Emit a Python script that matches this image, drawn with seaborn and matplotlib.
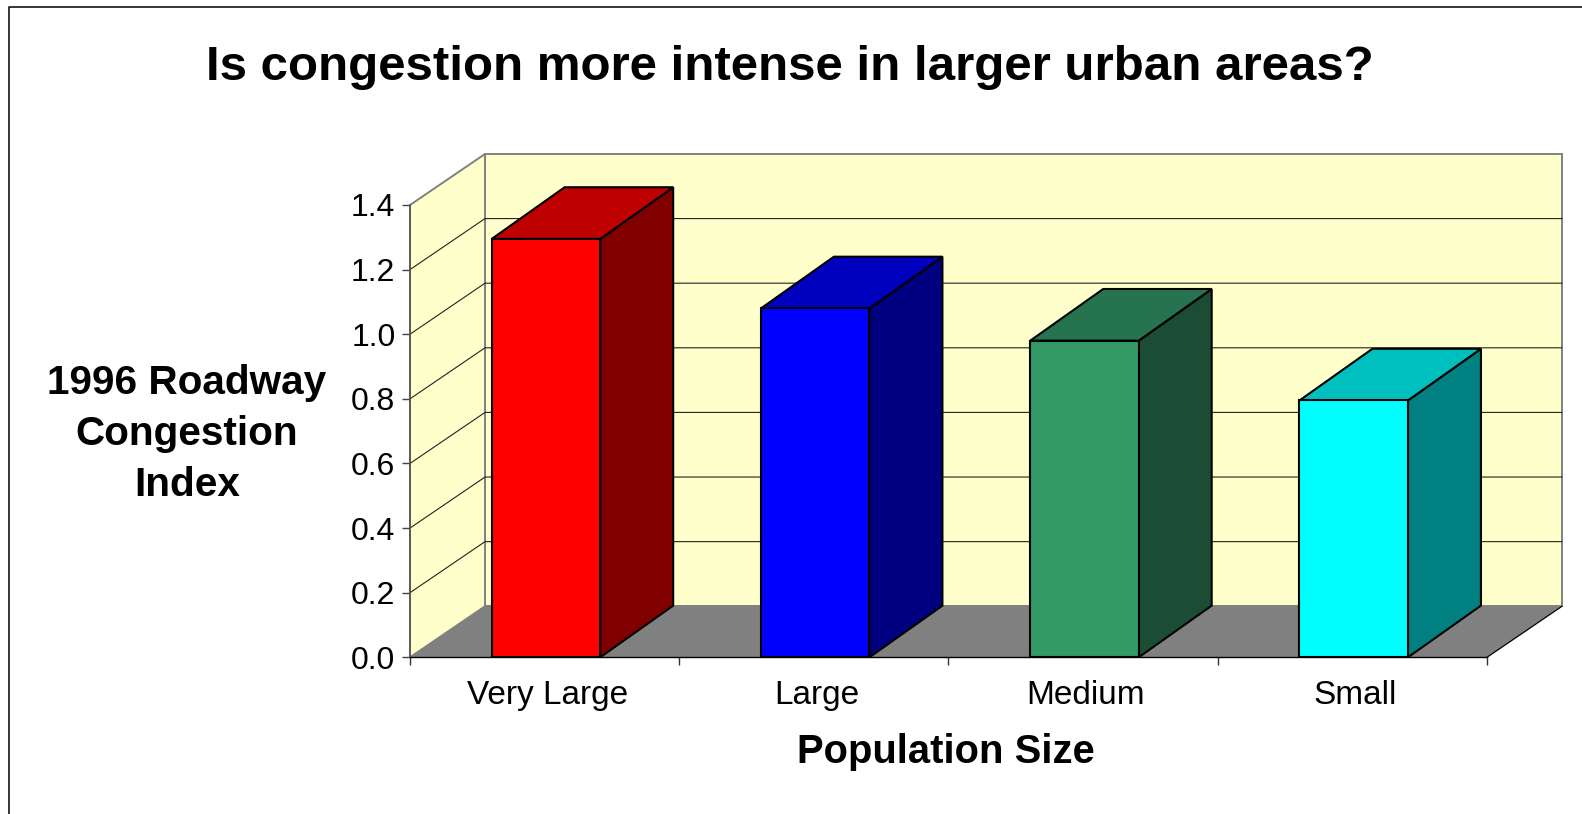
import matplotlib
matplotlib.use('Agg')
import matplotlib.pyplot as plt
from matplotlib.lines import Line2D
from matplotlib.patches import Polygon
import pandas as pd
import seaborn as sns

# Values
categories = ['Very Large', 'Large', 'Medium', 'Small']
congestion_index = [1.295, 1.08, 0.98, 0.795]
y_ticks = [0.0, 0.2, 0.4, 0.6, 0.8, 1.0, 1.2, 1.4]

front_colors = ['#FF0000', '#0000FF', '#339966', '#00FFFF']
top_colors = ['#BF0000', '#0000BF', '#267350', '#00BFBF']
side_colors = ['#800000', '#000080', '#1A4D33', '#008080']

WALL = '#FFFFCC'
FLOOR = '#808080'
# Depth of the fake 3D box, in data units
BOX_DX, BOX_DY = 0.2786, 0.158
BAR_DX, BAR_DY = 0.271, 0.160

sns.set_theme(style='white')
plt.rcParams['font.family'] = ['Liberation Sans', 'DejaVu Sans']

W, H = 1582, 814
fig = plt.figure(figsize=(W / 100, H / 100), dpi=100, facecolor='white')
ax = fig.add_axes([410 / W, (H - 657.3) / H, 1077 / W, 452.3 / H])

df = pd.DataFrame({'size': categories, 'index': congestion_index})
sns.barplot(data=df, x='size', y='index', hue='size', palette=front_colors,
            legend=False, width=0.403, edgecolor='black', linewidth=1.5,
            saturation=1, zorder=5, ax=ax)

x0, x1 = -0.505, 3.495
y0, y1 = 0, 1.4
ax.set_xlim(x0, x1)
ax.set_ylim(y0, y1)

# Box walls and floor
wall_kw = dict(clip_on=False, zorder=0.5)
ax.add_patch(Polygon([(x0 + BOX_DX, y0 + BOX_DY), (x1 + BOX_DX, y0 + BOX_DY),
                      (x1 + BOX_DX, y1 + BOX_DY), (x0 + BOX_DX, y1 + BOX_DY)],
                     facecolor=WALL, edgecolor=FLOOR, linewidth=1.4, **wall_kw))
ax.add_patch(Polygon([(x0, y0), (x0 + BOX_DX, y0 + BOX_DY),
                      (x0 + BOX_DX, y1 + BOX_DY), (x0, y1)],
                     facecolor=WALL, edgecolor=FLOOR, linewidth=1.4, **wall_kw))
ax.add_patch(Polygon([(x0, y0), (x1, y0), (x1 + BOX_DX, y0 + BOX_DY),
                      (x0 + BOX_DX, y0 + BOX_DY)],
                     facecolor=FLOOR, edgecolor='none', clip_on=False, zorder=0.8))
ax.plot([x1, x1 + BOX_DX], [y0, y0 + BOX_DY], color='black', lw=0.9,
        clip_on=False, zorder=1)

# Gridlines along both walls
for t in y_ticks[1:-1]:
    ax.plot([x0, x0 + BOX_DX, x1 + BOX_DX], [t, t + BOX_DY, t + BOX_DY],
            color='#222222', lw=0.8, clip_on=False, zorder=1)

# Top and side face of each bar, taken from the bars seaborn drew
bars = [p for c in ax.containers for p in c]
for bar, top, side in zip(bars, top_colors, side_colors):
    left = bar.get_x()
    right = left + bar.get_width()
    h = bar.get_height()
    ax.add_patch(Polygon([(right, 0), (right + BAR_DX, BAR_DY),
                          (right + BAR_DX, h + BAR_DY), (right, h)],
                         facecolor=side, edgecolor='black', linewidth=1.5,
                         joinstyle='miter', clip_on=False, zorder=4))
    ax.add_patch(Polygon([(left, h), (right, h), (right + BAR_DX, h + BAR_DY),
                          (left + BAR_DX, h + BAR_DY)],
                         facecolor=top, edgecolor='black', linewidth=1.5,
                         joinstyle='miter', clip_on=False, zorder=4))

# Axes
for s in ['top', 'right']:
    ax.spines[s].set_visible(False)
ax.spines['left'].set_color('#555555')
ax.spines['left'].set_linewidth(1.2)
ax.spines['bottom'].set_color('black')
ax.spines['bottom'].set_linewidth(1.0)

ax.set_yticks(y_ticks)
ax.set_yticklabels([f'{t:.1f}' for t in y_ticks])
ax.tick_params(axis='y', left=True, length=5.5, width=1.0, color='#444444',
               pad=5, labelsize=23, labelcolor='black')
ax.set_xticks([x0 + i for i in range(5)])
ax.set_xticklabels([])
ax.set_xticks([i + 0.005 for i in range(4)], minor=True)
ax.set_xticklabels(categories, minor=True)
ax.tick_params(axis='x', which='major', bottom=True, length=6, width=1.0,
               color='#333333')
ax.tick_params(axis='x', which='minor', bottom=False, length=0, pad=16,
               labelsize=24, labelcolor='black')

ax.set_xlabel('Population Size', fontsize=28.8, fontweight='bold', color='black')
ax.xaxis.set_label_coords((946 - 410) / 1077, (657.3 - 752) / 452.3)
ax.xaxis.label.set_verticalalignment('center')
ax.set_ylabel('1996 Roadway\nCongestion\nIndex', rotation=0, fontsize=29.2,
              fontweight='bold', color='black', ha='center', va='center',
              linespacing=1.43)
ax.yaxis.set_label_coords((187 - 410) / 1077, (657.3 - 434) / 452.3)

fig.text(790 / W, (H - 67) / H, 'Is congestion more intense in larger urban areas?',
         fontsize=35.5, fontweight='bold', color='black', ha='center', va='center')

# Slide border, runs off the right and bottom of the picture
fig.add_artist(Line2D([1, 9 / W, 9 / W], [(H - 7) / H, (H - 7) / H, 0],
                      color='black', lw=1.1))

fig.savefig('out.png', dpi=100)
